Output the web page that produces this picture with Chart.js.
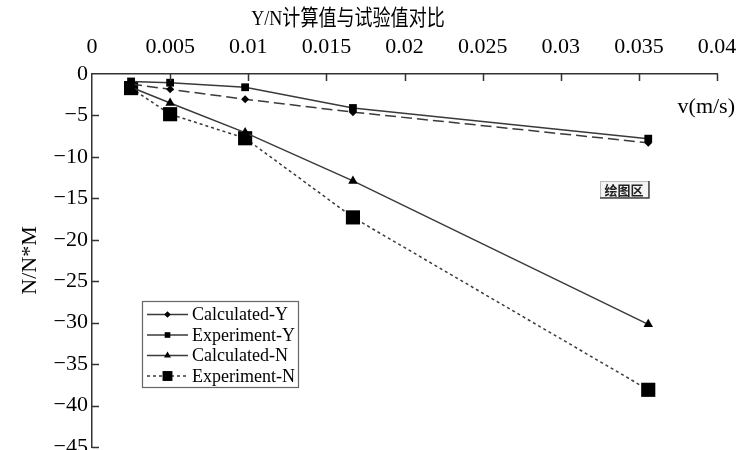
<!DOCTYPE html>
<html><head><meta charset="utf-8">
<script src="https://cdn.jsdelivr.net/npm/chart.js@4/dist/chart.umd.min.js"></script>
<style>html,body{margin:0;padding:0;background:#fff}#wrap{width:736px;height:450px;position:relative}</style>
</head><body><div id="wrap"><canvas id="c" width="736" height="450"></canvas></div>
<script>
const velocity = [0.0025, 0.005, 0.0098, 0.0167, 0.0356];
const calculatedY = [-1.2, -1.85, -3.05, -4.6, -8.3];
const experimentY = [-0.9, -1.05, -1.6, -4.1, -7.8];
const calculatedN = [-1.6, -3.5, -7.07, -12.9, -30.2];
const experimentN = [-1.7, -4.85, -7.75, -17.3, -38.1];
const seriesNames = ['Calculated-Y', 'Experiment-Y', 'Calculated-N', 'Experiment-N'];
const xTicks = [0, 0.005, 0.01, 0.015, 0.02, 0.025, 0.03, 0.035, 0.04];
const xTickLabels = ['0', '0.005', '0.01', '0.015', '0.02', '0.025', '0.03', '0.035', '0.04'];
const yTicks = [0, -5, -10, -15, -20, -25, -30, -35, -40, -45];
const chartTitle = 'Y/N计算值与试验值对比';
const xAxisLabel = 'v(m/s)';
const yAxisLabel = 'N/N*M';
const plotAreaLabel = '绘图区';

const SERIF = '"Liberation Serif", "Times New Roman", serif';
const LINE = '#3a3a3a';
const AXIS = '#333333';

function pts(ys) { return velocity.map((x, i) => ({ x: x, y: ys[i] })); }

const styles = [
  { dash: [11, 5], legendDash: [], pointStyle: 'rectRot', radius: 4 },
  { dash: [], legendDash: [], pointStyle: 'rect', radius: 5.5 },
  { dash: [], legendDash: [], pointStyle: 'triangle', radius: 5.5 },
  { dash: [3, 3], legendDash: [3, 3], pointStyle: 'rect', radius: 10 }
];
const seriesData = [calculatedY, experimentY, calculatedN, experimentN];

const datasets = seriesNames.map((name, i) => ({
  label: name,
  data: pts(seriesData[i]),
  borderColor: LINE,
  borderWidth: 1.5,
  borderDash: styles[i].dash,
  pointStyle: styles[i].pointStyle,
  pointRadius: styles[i].radius,
  pointBackgroundColor: '#000',
  pointBorderColor: '#000',
  pointBorderWidth: 0,
  tension: 0,
  fill: false
}));

const decorPlugin = {
  id: 'decor',
  afterDraw(chart) {
    const ctx = chart.ctx;
    const xs = chart.scales.x, ys = chart.scales.y;
    const area = chart.chartArea;
    ctx.save();
    // inward ticks
    ctx.strokeStyle = AXIS;
    ctx.lineWidth = 1.5;
    ctx.beginPath();
    xTicks.forEach(v => {
      const px = Math.round(xs.getPixelForValue(v)) + 0.5;
      if (v === 0) return;
      ctx.moveTo(px, area.top);
      ctx.lineTo(px, area.top + 7);
    });
    yTicks.forEach(v => {
      const py = Math.round(ys.getPixelForValue(v)) + 0.5;
      if (v === 0) return;
      ctx.moveTo(area.left, py);
      ctx.lineTo(area.left + 7, py);
    });
    ctx.stroke();

    // title (slightly condensed like the reference)
    ctx.fillStyle = '#000';
    ctx.font = '22px ' + SERIF + ', "Noto Sans CJK SC"';
    ctx.textAlign = 'center';
    ctx.textBaseline = 'middle';
    ctx.save();
    ctx.translate(348, 19);
    ctx.scale(0.82, 1);
    ctx.fillText(chartTitle, 0, 0);
    ctx.restore();

    // x axis label inside plot
    ctx.font = '22px ' + SERIF;
    ctx.textAlign = 'right';
    ctx.fillText(xAxisLabel, 735, 107);

    // plot area button
    const bx = 600, by = 181, bw = 48, bh = 16;
    ctx.fillStyle = '#f4f4f4';
    ctx.fillRect(bx, by, bw, bh);
    ctx.strokeStyle = '#bbbbbb';
    ctx.lineWidth = 1;
    ctx.strokeRect(bx + 0.5, by + 0.5, bw, bh);
    ctx.strokeStyle = '#444';
    ctx.lineWidth = 1.5;
    ctx.beginPath();
    ctx.moveTo(bx + bw + 1, by);
    ctx.lineTo(bx + bw + 1, by + bh + 1);
    ctx.lineTo(bx, by + bh + 1);
    ctx.stroke();
    ctx.fillStyle = '#222';
    ctx.font = 'bold 13px "Noto Sans CJK SC"';
    ctx.textAlign = 'center';
    ctx.fillText(plotAreaLabel, bx + bw / 2, by + bh / 2 + 1);

    // legend
    const lx = 142, ly = 301, lw = 156, lh = 86;
    ctx.fillStyle = '#fff';
    ctx.fillRect(lx, ly, lw, lh);
    ctx.strokeStyle = '#666';
    ctx.lineWidth = 1.2;
    ctx.strokeRect(lx + 0.5, ly + 0.5, lw, lh);
    chart.data.datasets.forEach((ds, i) => {
      const y = ly + 13.5 + i * 20.5;
      ctx.strokeStyle = LINE;
      ctx.lineWidth = 1.5;
      ctx.setLineDash(styles[i].legendDash);
      ctx.beginPath();
      ctx.moveTo(147, y);
      ctx.lineTo(188, y);
      ctx.stroke();
      ctx.setLineDash([]);
      const r = i === 3 ? 7 : (i === 0 ? 3.2 : 4);
      ctx.fillStyle = '#000';
      if (Chart.helpers && Chart.helpers.drawPoint) {
        Chart.helpers.drawPoint(ctx, { pointStyle: styles[i].pointStyle, radius: r, borderWidth: 0, rotation: 0 }, 167.5, y);
      }
      ctx.fillStyle = '#000';
      ctx.font = '18px ' + SERIF;
      ctx.textAlign = 'left';
      ctx.textBaseline = 'middle';
      ctx.fillText(ds.label, 192, y + 1);
    });
    ctx.restore();
  }
};

new Chart(document.getElementById('c'), {
  type: 'line',
  data: { datasets: datasets },
  options: {
    responsive: false,
    animation: false,
    layout: { autoPadding: false, padding: { left: 0, right: 19, top: 0, bottom: 3 } },
    plugins: { legend: { display: false }, title: { display: false }, tooltip: { enabled: false } },
    scales: {
      x: {
        type: 'linear', position: 'top', min: 0, max: 0.04,
        afterFit(s) { s.height = 74; s.paddingLeft = 0; s.paddingRight = 0; },
        afterBuildTicks(s) { s.ticks = xTicks.map(v => ({ value: v })); },
        grid: { display: true, drawOnChartArea: false, drawTicks: false },
        border: { display: true, color: AXIS, width: 1.5 },
        ticks: {
          padding: 14, color: '#000', maxRotation: 0, autoSkip: false,
          font: { family: SERIF, size: 22 },
          callback(v) { const i = xTicks.findIndex(t => Math.abs(t - v) < 1e-9); return i >= 0 ? xTickLabels[i] : ''; }
        }
      },
      y: {
        type: 'linear', position: 'left', min: -45, max: 0,
        afterFit(s) { s.width = 92; s.paddingTop = 0; s.paddingBottom = 0; },
        afterBuildTicks(s) { s.ticks = yTicks.map(v => ({ value: v })); },
        grid: { display: true, drawOnChartArea: false, drawTicks: false },
        border: { display: true, color: AXIS, width: 1.5 },
        title: { display: true, text: yAxisLabel, color: '#000', font: { family: SERIF, size: 22 }, padding: { top: 17, bottom: 0 } },
        ticks: {
          padding: 4, color: '#000', autoSkip: false,
          font: { family: SERIF, size: 22 },
          callback(v) { return String(v).replace('-', '\u2212'); }
        }
      }
    }
  },
  plugins: [decorPlugin]
});
</script>
</body></html>
